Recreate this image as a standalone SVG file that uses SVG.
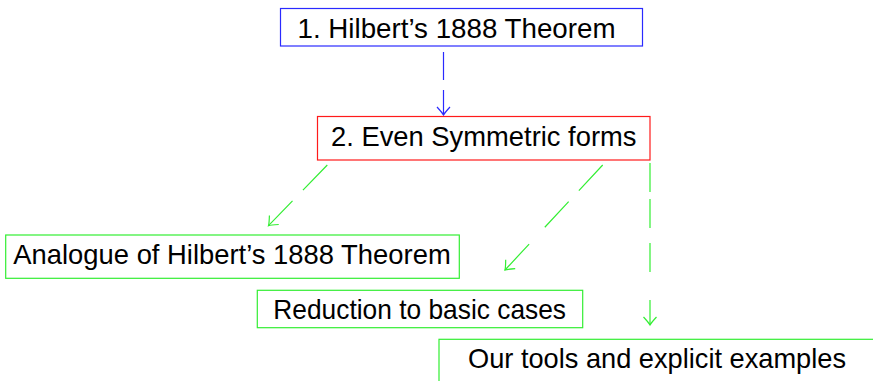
<svg xmlns="http://www.w3.org/2000/svg" width="873" height="381" viewBox="0 0 873 381">
<style>
  .lbl { font-family: "Liberation Sans", Arial, sans-serif; font-size: 28px; fill: #000; }
  .box { fill: #fff; stroke-width: 1.2; }
  .blue { stroke: #2a2aff; }
  .red { stroke: #ff1a1a; }
  .green { stroke: #33ee33; }
  .edge { fill: none; stroke-width: 1.2; }
</style>
<defs>
  <marker id="toB" markerUnits="userSpaceOnUse" markerWidth="20" markerHeight="20" refX="0" refY="0" viewBox="-10 -10 20 20" orient="auto" overflow="visible">
    <path d="M -8,-6.5 Q -2,-1 0,0 Q -2,1 -8,6.5" fill="none" stroke="#2a2aff" stroke-width="1.2"/>
  </marker>
  <marker id="toG" markerUnits="userSpaceOnUse" markerWidth="20" markerHeight="20" refX="0" refY="0" viewBox="-10 -10 20 20" orient="auto" overflow="visible">
    <path d="M -8,-6.5 Q -2,-1 0,0 Q -2,1 -8,6.5" fill="none" stroke="#33ee33" stroke-width="1.2"/>
  </marker>
</defs>
<g id="connectors">
  <path class="edge blue" d="M 443.5,52 L 443.5,115" stroke-dasharray="28 10 25" marker-end="url(#toB)"/>
  <path class="edge green" d="M 327.3,165 L 268.5,225.7" stroke-dasharray="35 15 35" marker-end="url(#toG)"/>
  <path class="edge green" d="M 602.7,165 L 505,270" stroke-dasharray="35 15 35 23 36" marker-end="url(#toG)"/>
  <path class="edge green" d="M 650,163 L 650,325" stroke-dasharray="29 7 29 15 29 28 25" marker-end="url(#toG)"/>
</g>
<g id="n1">
  <rect class="box blue" x="280.5" y="8.5" width="362" height="37.5"/>
  <text class="lbl" x="297.5" y="37.7" textLength="318" lengthAdjust="spacingAndGlyphs">1. Hilbert’s 1888 Theorem</text>
</g>
<g id="n2">
  <rect class="box red" x="317.5" y="116.5" width="332.5" height="43.5"/>
  <text class="lbl" x="331" y="145.7" textLength="305.5" lengthAdjust="spacingAndGlyphs">2. Even Symmetric forms</text>
</g>
<g id="n3">
  <rect class="box green" x="5.7" y="235" width="453.6" height="43.3"/>
  <text class="lbl" x="13.3" y="264.3" textLength="437.4" lengthAdjust="spacingAndGlyphs">Analogue of Hilbert’s 1888 Theorem</text>
</g>
<g id="n4">
  <rect class="box green" x="257.3" y="290.3" width="325.4" height="37.4"/>
  <text class="lbl" x="273.3" y="319.3" textLength="292.7" lengthAdjust="spacingAndGlyphs">Reduction to basic cases</text>
</g>
<g id="n5">
  <rect class="box green" x="439" y="339.3" width="450" height="60"/>
  <text class="lbl" x="468" y="367.7" textLength="378" lengthAdjust="spacingAndGlyphs">Our tools and explicit examples</text>
</g>
</svg>
